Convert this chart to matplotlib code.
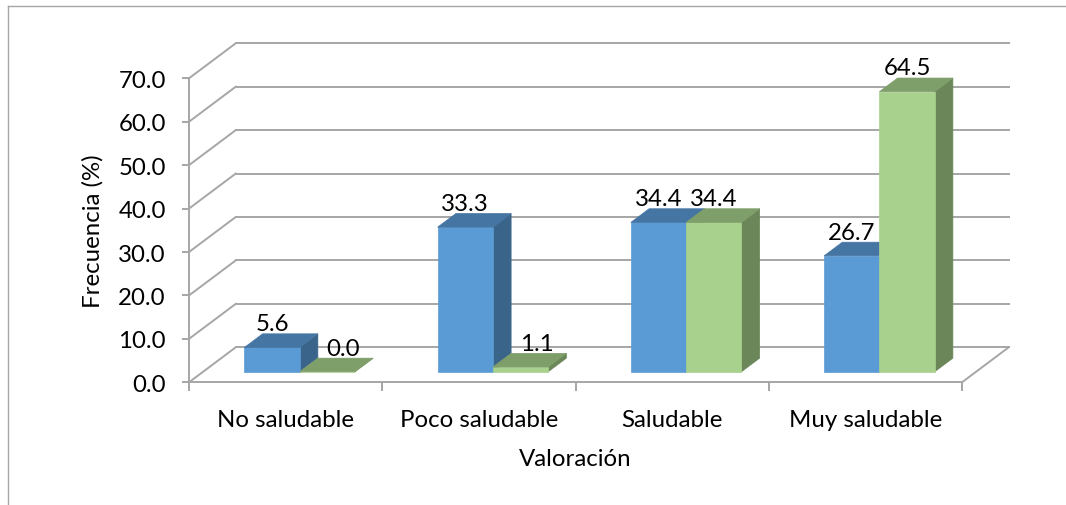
import numpy as np
import matplotlib
matplotlib.use('Agg')
import matplotlib.pyplot as plt
from matplotlib.patches import Polygon
from matplotlib.lines import Line2D

plt.rcParams['font.family'] = ['Lato', 'DejaVu Sans']

categories = ['No saludable', 'Poco saludable', 'Saludable', 'Muy saludable']
serie_azul = [5.6, 33.3, 34.4, 26.7]
serie_verde = [0.0, 1.1, 34.4, 64.5]
y_ticks = [0, 10, 20, 30, 40, 50, 60, 70]

# colours: front, top, side
azul = ('#5B9BD5', '#4575A3', '#3A6489')
verde = ('#A9D18E', '#7F9F6A', '#6B8759')
grid_col = '#A6A6A6'
fs = 17.3

W, H = 1066, 506
fig = plt.figure(figsize=(W / 100, H / 100), dpi=100)
ax = fig.add_axes([189 / W, (H - 383.3) / H, 773 / W, 304 / H])
ax.set_xlim(0, 4)
ax.set_ylim(0, 70)

# depth of the 3d box in data units
DX = 46.7 / 193.2
DY = 35.0 / 4.343
d0 = 0.30     # where bars start in depth
bd = 0.39     # bar depth
bw = 0.286    # bar width
gap = 0.5 - bw

# walls / gridlines
for v in y_ticks:
    ax.plot([0, DX], [v, v + DY], color=grid_col, lw=1.4, clip_on=False, zorder=1)
    ax.plot([DX, 4 + DX], [v + DY, v + DY], color=grid_col, lw=1.4, clip_on=False, zorder=1)
ax.plot([4, 4 + DX], [0, DY], color=grid_col, lw=1.4, clip_on=False, zorder=1)


def bar3d(x0, yb, h, cols):
    bx, by = bd * DX, bd * DY
    front = [(x0, yb), (x0 + bw, yb), (x0 + bw, yb + h), (x0, yb + h)]
    top = [(x0, yb + h), (x0 + bw, yb + h), (x0 + bw + bx, yb + h + by), (x0 + bx, yb + h + by)]
    side = [(x0 + bw, yb), (x0 + bw + bx, yb + by), (x0 + bw + bx, yb + h + by), (x0 + bw, yb + h)]
    for pts, c in ((side, cols[2]), (front, cols[0]), (top, cols[1])):
        ax.add_patch(Polygon(pts, closed=True, facecolor=c, edgecolor=c, lw=0.5,
                             clip_on=False, zorder=3))


label_shift = {(1, 0): 11.5, (1, 1): 11.5}   # small bars: label pushed right

for i in range(len(categories)):
    for s, (vals, cols) in enumerate(((serie_azul, azul), (serie_verde, verde))):
        x0 = i + gap + s * bw + d0 * DX
        yb = d0 * DY
        h = vals[i]
        bar3d(x0, yb, h, cols)
        ax.annotate(f'{h:.1f}', (x0 + bw / 2, yb + h + bd * DY),
                    xytext=(label_shift.get((s, i), 0), 2.6), textcoords='offset points',
                    ha='center', va='baseline', fontsize=fs, color='black', zorder=5,
                    annotation_clip=False)

for sp in ['top', 'right']:
    ax.spines[sp].set_visible(False)
for sp in ['left', 'bottom']:
    ax.spines[sp].set_color(grid_col)
    ax.spines[sp].set_linewidth(1.4)
    ax.spines[sp].set_zorder(2)

ax.set_yticks(y_ticks)
ax.set_yticklabels([f'{v:.1f}' for v in y_ticks])
ax.tick_params(axis='y', direction='out', length=5.2, width=1.4, color=grid_col,
               labelsize=fs, pad=11.5)

ax.set_xticks(range(5))
ax.set_xticklabels([])
ax.set_xticks(np.arange(4) + 0.5, minor=True)
ax.set_xticklabels(categories, minor=True)
ax.tick_params(axis='x', which='major', direction='out', length=6.5, width=1.4, color=grid_col)
ax.tick_params(axis='x', which='minor', length=0, labelsize=fs, pad=19.5)
ax.patch.set_alpha(0)

fig.text(93 / W, 1 - 231 / H, 'Frecuencia (%)', rotation=90, ha='center', va='center', fontsize=fs)
fig.text(575 / W, 1 - 460 / H, 'Valoración', ha='center', va='center', fontsize=fs)

# chart frame (only top and left edges visible)
fig.add_artist(Line2D([8 / W, 1], [1 - 7 / H, 1 - 7 / H], color='#A6A6A6', lw=1.0))
fig.add_artist(Line2D([8 / W, 8 / W], [0, 1 - 7 / H], color='#A6A6A6', lw=1.0))

fig.savefig('out.png', dpi=100)
